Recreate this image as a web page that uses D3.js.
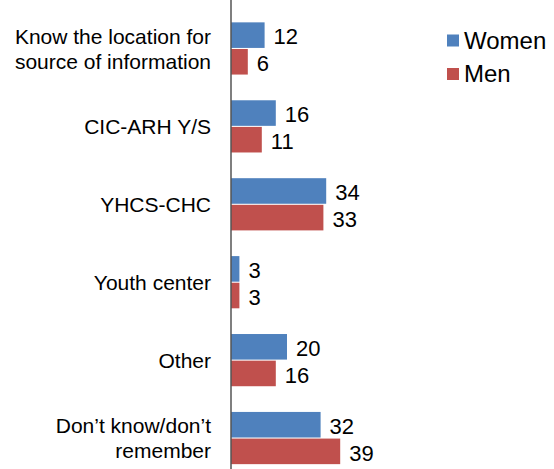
<!doctype html>
<html>
  <style>
    body { margin: 0; background-color: #fff; }
    text { font-family: "Liberation Sans", Arial, sans-serif; fill: #000; }
  </style>
  <body>
  <script src="https://cdn.jsdelivr.net/npm/d3@7"></script>
  <script>
    var width = 554,
        height = 469;

    // data
    var categories = [
      ['Know the location for', 'source of information'],
      ['CIC-ARH Y/S'],
      ['YHCS-CHC'],
      ['Youth center'],
      ['Other'],
      ['Don\u2019t know/don\u2019t', 'remember']
    ];
    var seriesNames = ['Women', 'Men'];
    var women = [12, 16, 34, 3, 20, 32];
    var men = [6, 11, 33, 3, 16, 39];
    var colors = ['#4F81BD', '#C0504D'];

    var rows = categories.map(function (c, i) {
      return { key: i, label: c, values: [women[i], men[i]] };
    });

    var svg = d3.select('body').append('svg')
        .attr('width', width)
        .attr('height', height);

    var axisX = 231;

    var x = d3.scaleLinear()
        .domain([0, 50])
        .range([axisX, axisX + 140]);

    var y = d3.scaleBand()
        .domain(rows.map(function (d) { return d.key; }))
        .range([9.5, 477])
        .paddingInner(0.33)
        .paddingOuter(0.165);

    var ySub = d3.scaleBand()
        .domain([0, 1])
        .range([0, y.bandwidth()])
        .paddingInner(0.04);

    var group = svg.selectAll('g.cat')
        .data(rows)
      .enter().append('g')
        .attr('class', 'cat')
        .attr('transform', function (d) { return 'translate(0,' + y(d.key) + ')'; });

    group.selectAll('rect')
        .data(function (d) { return d.values; })
      .enter().append('rect')
        .attr('x', x(0))
        .attr('y', function (d, i) { return ySub(i); })
        .attr('width', function (d) { return x(d) - x(0); })
        .attr('height', ySub.bandwidth())
        .attr('fill', function (d, i) { return colors[i]; });

    group.selectAll('text.val')
        .data(function (d) { return d.values; })
      .enter().append('text')
        .attr('class', 'val')
        .attr('x', function (d) { return x(d) + 9; })
        .attr('y', function (d, i) { return ySub(i) + ySub.bandwidth() / 2; })
        .attr('dy', '0.42em')
        .style('font-size', '22px')
        .text(function (d) { return d; });

    // category labels
    group.append('text')
        .attr('class', 'cat-label')
        .attr('text-anchor', 'end')
        .style('font-size', '21px')
        .each(function (d) {
          var t = d3.select(this);
          var n = d.label.length;
          var mid = y.bandwidth() / 2;
          d.label.forEach(function (line, i) {
            t.append('tspan')
                .attr('x', 211)
                .attr('y', mid + (i - (n - 1) / 2) * 25)
                .attr('dy', '0.36em')
                .text(line);
          });
        });

    // vertical axis line
    svg.append('line')
        .attr('x1', axisX).attr('x2', axisX)
        .attr('y1', 0).attr('y2', height)
        .attr('stroke', '#555')
        .attr('stroke-width', 1.5);

    // legend
    var legend = svg.selectAll('g.legend')
        .data(seriesNames)
      .enter().append('g')
        .attr('class', 'legend')
        .attr('transform', function (d, i) { return 'translate(447,' + (34.5 + i * 33.5) + ')'; });

    legend.append('rect')
        .attr('width', 12)
        .attr('height', 12)
        .attr('fill', function (d, i) { return colors[i]; });

    legend.append('text')
        .attr('x', 17)
        .attr('y', 14)
        .style('font-size', '24px')
        .text(function (d) { return d; });
  </script>
  </body>
</html>
